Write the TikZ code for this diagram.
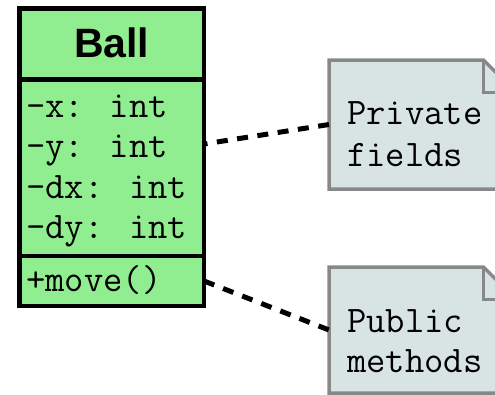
\documentclass[tikz,border=0pt]{standalone}
\usepackage{fontspec}
\newfontfamily\headfont{Liberation Sans}
\usetikzlibrary{positioning}
\definecolor{classgreen}{HTML}{90EE90}
\definecolor{notefill}{RGB}{216,228,228}
\definecolor{notegray}{RGB}{136,136,136}
\tikzset{
	classpart/.style={draw=black, fill=classgreen, line width=4.5pt, minimum width=184.5pt, inner sep=0pt, outer sep=0pt},
	membertext/.style={anchor=base west, inner sep=0pt, font=\ttfamily\fontsize{37.5}{40}\selectfont},
	notearea/.style={inner sep=0pt, outer sep=0pt, minimum width=187pt, anchor=north west},
	noteborder/.style={draw=notegray, line width=3.5pt},
	notelink/.style={draw=black, line width=5pt, dash pattern=on 11pt off 9.5pt}
}
\begin{document}
\begin{tikzpicture}[x=1pt, y=-1pt]
	\useasboundingbox (0, 0) rectangle (495, 394);
	\clip (0, 0) rectangle (495, 394);
	%class box
	\node[classpart, minimum height=71pt] (head) at (111.75, 44) {};
	\node[classpart, minimum height=176.5pt, below=0pt of head] (fields) {};
	\node[classpart, minimum height=50pt, below=0pt of fields] (methods) {};
	\node[anchor=base, inner sep=0pt, font=\headfont\bfseries\fontsize{41}{44}\selectfont] (title) at (111.75, 57) {Ball};
	\node[membertext] (fx) at (26, 117) {-x: int};
	\node[membertext] (fy) at (26, 157) {-y: int};
	\node[membertext] (fdx) at (26, 198) {-dx: int};
	\node[membertext] (fdy) at (26, 238) {-dy: int};
	\node[membertext] (mmove) at (26, 291) {+move()};
	%private note
	\node[notearea, minimum height=129pt] (privnote) at (329, 60) {};
	\draw[noteborder, fill=notefill] (privnote.south west) -- (privnote.north west)
			-- ([xshift=-32.5pt]privnote.north east) -- ([yshift=-32.5pt]privnote.north east)
			-- (privnote.south east) -- cycle;
	\draw[noteborder] ([xshift=-32.5pt]privnote.north east) |- ([yshift=-32.5pt]privnote.north east);
	\node[membertext] (privtop) at (347, 124) {Private};
	\node[membertext] (privbot) at (347, 166) {fields};
	%public note
	\node[notearea, minimum height=126pt] (pubnote) at (329, 267) {};
	\draw[noteborder, fill=notefill] (pubnote.south west) -- (pubnote.north west)
			-- ([xshift=-32.5pt]pubnote.north east) -- ([yshift=-32.5pt]pubnote.north east)
			-- (pubnote.south east) -- cycle;
	\draw[noteborder] ([xshift=-32.5pt]pubnote.north east) |- ([yshift=-32.5pt]pubnote.north east);
	\node[membertext] (pubtop) at (347, 332) {Public};
	\node[membertext] (pubbot) at (347, 372) {methods};
	%links
	\draw[notelink] (privnote.west) -- ([yshift=23.75pt]fields.east);
	\draw[notelink] (methods.east) -- (pubnote.west);
\end{tikzpicture}
\end{document}
